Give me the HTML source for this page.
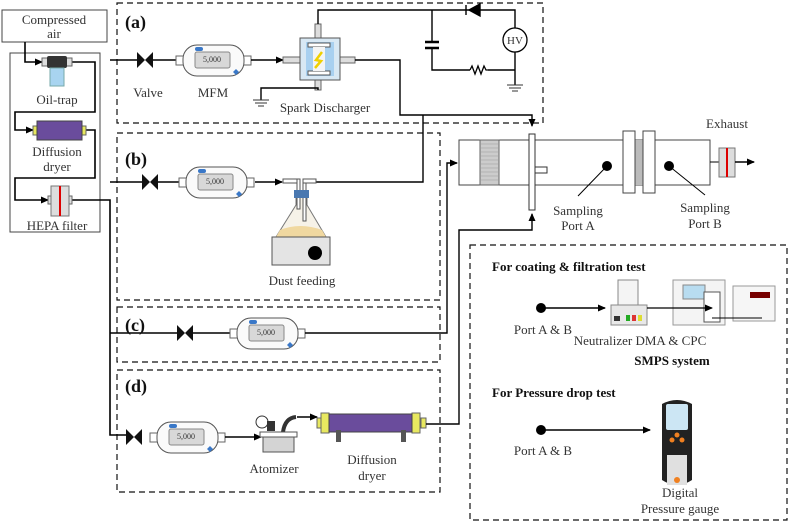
<!DOCTYPE html>
<html><head><style>body{margin:0;background:#fff}svg{display:block}text{font-family:"Liberation Serif",serif;fill:#333}</style></head><body>
<svg width="791" height="526" viewBox="0 0 791 526" xmlns="http://www.w3.org/2000/svg">
<defs>
<marker id="ar" markerWidth="8" markerHeight="8" refX="7" refY="4" orient="auto" markerUnits="userSpaceOnUse"><path d="M0,0.5 L8,4 L0,7.5z" fill="#000"/></marker>
<g id="mfm"><rect x="0" y="12" width="8" height="9" fill="#fff" stroke="#666"/><rect x="67" y="12" width="8" height="9" fill="#fff" stroke="#666"/><rect x="7" y="1" width="61" height="31" rx="14" fill="#fafafa" stroke="#555"/><rect x="19" y="8" width="35" height="16" rx="2" fill="#d8d8d8" stroke="#888"/><rect x="19" y="3" width="8" height="4" rx="2" fill="#3a78c8"/><path d="M60,25 l3,3 l-3,3 l-3,-3z" fill="#3a78c8"/></g>
<g id="valve"><path d="M0,-8 L8,0 L0,8z M16,-8 L8,0 L16,8z" fill="#111"/></g>
</defs>
<g fill="none" stroke="#111" stroke-width="1.2" stroke-dasharray="6,4">
<rect x="117" y="3" width="426" height="120"/>
<rect x="117" y="133" width="323" height="167"/>
<rect x="117" y="307" width="323" height="55"/>
<rect x="117" y="370" width="323" height="122"/>
<rect x="470" y="245" width="317" height="275"/>
</g>
<!-- left panel -->
<rect x="2" y="10" width="105" height="32" fill="#fff" stroke="#444"/>
<text x="54" y="24" font-size="13" text-anchor="middle">Compressed</text>
<text x="54" y="38" font-size="13" text-anchor="middle">air</text>
<rect x="10" y="53" width="90" height="179" fill="none" stroke="#444"/>
<g fill="none" stroke="#000" stroke-width="1.6">
<path d="M25,42 V62 H42" marker-end="url(#ar)"/>
<path d="M72,62 H95 V112 H15 V130 H33" marker-end="url(#ar)"/>
<path d="M86,130 H95 V178 H15 V200 H48" marker-end="url(#ar)"/>
<path d="M70,200 H110 V435 H128"/>
<path d="M110,60 H137"/>
<path d="M110,182 H142"/>
<path d="M110,333 H177"/>
</g>
<rect x="42" y="58" width="6" height="8" fill="#ddd" stroke="#666"/><rect x="66" y="58" width="6" height="8" fill="#ddd" stroke="#666"/>
<rect x="47" y="56" width="20" height="12" rx="2" fill="#333"/>
<rect x="50" y="68" width="14" height="18" fill="#a8d4f0" stroke="#7aa"/>
<text x="57" y="104" font-size="13" text-anchor="middle">Oil-trap</text>
<rect x="33" y="126" width="5" height="9" fill="#e8e860" stroke="#666"/><rect x="81" y="126" width="5" height="9" fill="#e8e860" stroke="#666"/>
<rect x="37" y="121" width="45" height="19" fill="#6a4c9c" stroke="#444"/>
<text x="57" y="156" font-size="13" text-anchor="middle">Diffusion</text>
<text x="57" y="171" font-size="13" text-anchor="middle">dryer</text>
<rect x="48" y="196" width="4" height="8" fill="#ddd" stroke="#666"/><rect x="68" y="196" width="4" height="8" fill="#ddd" stroke="#666"/>
<rect x="51" y="186" width="18" height="30" fill="#ddd" stroke="#777"/><line x1="60" y1="186" x2="60" y2="216" stroke="#d00" stroke-width="2"/>
<text x="57" y="230" font-size="13" text-anchor="middle">HEPA filter</text>
<!-- (a) -->
<text x="125" y="28" font-size="18" font-weight="bold" style="fill:#111">(a)</text>
<use href="#valve" x="137" y="60"/>
<line x1="153" y1="60" x2="176" y2="60" stroke="#000" stroke-width="1.4"/>
<use href="#mfm" x="176" y="44"/><text x="212" y="62" font-size="8" text-anchor="middle">5,000</text>
<path d="M251,60 H283" stroke="#000" stroke-width="1.4" marker-end="url(#ar)"/>
<text x="148" y="97" font-size="13" text-anchor="middle">Valve</text>
<text x="213" y="97" font-size="13" text-anchor="middle">MFM</text>
<rect x="283" y="57" width="18" height="6" fill="#ddd" stroke="#666"/><rect x="340" y="57" width="15" height="6" fill="#ddd" stroke="#666"/>
<rect x="315" y="24" width="6" height="14" fill="#ddd" stroke="#666"/><rect x="315" y="80" width="6" height="10" fill="#ddd" stroke="#666"/>
<rect x="300" y="38" width="40" height="42" fill="#d8e8f4" stroke="#555"/>
<rect x="306" y="42" width="28" height="34" fill="#a8d0f0"/>
<rect x="308" y="43" width="22" height="4" fill="#fff" stroke="#555"/><rect x="308" y="71" width="22" height="4" fill="#fff" stroke="#555"/>
<rect x="313" y="47" width="12" height="24" fill="#f4f4f4"/>
<path d="M322,52 L316,60 L321,61 L315,68" stroke="#f0d000" stroke-width="2.5" fill="none"/>
<text x="325" y="112" font-size="13" text-anchor="middle">Spark Discharger</text>
<g fill="none" stroke="#000" stroke-width="1.4">
<path d="M318,24 V10 H515 V28"/><path d="M515,52 V85"/>
<path d="M432,10 V42 M432,48 V70 H470 M488,70 H515"/>
<path d="M318,90 V88 H261 V100"/>
<path d="M355,60 H400 V115 H532 V126" marker-end="url(#ar)"/>
<path d="M423,115 V182 H316"/>
</g>
<path d="M466,5 V15 M480,4 L469,10 L480,16z" stroke="#000" stroke-width="1.4" fill="#000"/>
<path d="M425,42 H439 M425,48 H439" stroke="#000" stroke-width="2.5"/>
<path d="M470,70 l2,-4 l3,8 l3,-8 l3,8 l3,-8 l2,4 h2" stroke="#000" stroke-width="1.3" fill="none"/>
<circle cx="515" cy="40" r="12" fill="#fff" stroke="#000" stroke-width="1.3"/><text x="515" y="44" font-size="11" text-anchor="middle">HV</text>
<path d="M507,85 H523 M509,88 H521 M512,91 H518 M253,100 H269 M255,103 H267 M258,106 H264" stroke="#333" stroke-width="1"/>
<!-- (b) -->
<text x="125" y="165" font-size="18" font-weight="bold" style="fill:#111">(b)</text>
<use href="#valve" x="142" y="182"/>
<line x1="158" y1="182" x2="179" y2="182" stroke="#000" stroke-width="1.4"/>
<use href="#mfm" x="179" y="166"/><text x="215" y="184" font-size="8" text-anchor="middle">5,000</text>
<path d="M255,182 H282" stroke="#000" stroke-width="1.4" marker-end="url(#ar)"/>
<path d="M276,237 L296,205 V197 H307 V205 L326,237z" fill="#f6f2e8" stroke="#777"/>
<path d="M280,230 Q300,222 322,230 L326,237 H276z" fill="#f0d8a0"/>
<rect x="283" y="179" width="16" height="4" fill="#fff" stroke="#555"/>
<rect x="297" y="179" width="3" height="30" fill="#fff" stroke="#555"/>
<rect x="303" y="179" width="3" height="42" fill="#fff" stroke="#555"/>
<rect x="303" y="179" width="13" height="4" fill="#fff" stroke="#555"/>
<rect x="294" y="190" width="15" height="8" fill="#4a78b0"/>
<rect x="272" y="237" width="58" height="28" fill="#e4e4e4" stroke="#555"/>
<circle cx="315" cy="253" r="7" fill="#000"/>
<text x="302" y="285" font-size="13" text-anchor="middle">Dust feeding</text>
<!-- (c) -->
<text x="125" y="331" font-size="18" font-weight="bold" style="fill:#111">(c)</text>
<use href="#valve" x="177" y="333"/>
<line x1="193" y1="333" x2="230" y2="333" stroke="#000" stroke-width="1.4"/>
<use href="#mfm" x="230" y="317"/><text x="266" y="335" font-size="8" text-anchor="middle">5,000</text>
<path d="M305,333 H447 V163 H457" stroke="#000" stroke-width="1.4" fill="none" marker-end="url(#ar)"/>
<!-- (d) -->
<text x="125" y="392" font-size="18" font-weight="bold" style="fill:#111">(d)</text>
<use href="#valve" x="126" y="437"/>
<use href="#mfm" x="150" y="421"/><text x="186" y="439" font-size="8" text-anchor="middle">5,000</text>
<path d="M225,437 H261" stroke="#000" stroke-width="1.4" marker-end="url(#ar)"/>
<circle cx="262" cy="422" r="6" fill="#fff" stroke="#333"/>
<rect x="267" y="421" width="8" height="10" fill="#333"/>
<path d="M283,432 Q285,418 296,417" stroke="#333" stroke-width="4" fill="none"/>
<path d="M297,417 H317" stroke="#000" stroke-width="1.4" marker-end="url(#ar)"/>
<rect x="260" y="432" width="37" height="5" fill="#fff" stroke="#555"/><rect x="263" y="437" width="31" height="15" fill="#d4d4d4" stroke="#555"/>
<text x="274" y="473" font-size="13" text-anchor="middle">Atomizer</text>
<rect x="317" y="418" width="5" height="10" fill="#e8e860" stroke="#666"/><rect x="421" y="418" width="5" height="10" fill="#e8e860" stroke="#666"/>
<rect x="321" y="413" width="8" height="20" fill="#e8e860" stroke="#666"/><rect x="412" y="413" width="8" height="20" fill="#e8e860" stroke="#666"/>
<rect x="329" y="414" width="83" height="18" fill="#6a4c9c" stroke="#444"/>
<rect x="336" y="430" width="5" height="12" fill="#555"/><rect x="401" y="430" width="5" height="12" fill="#555"/>
<text x="372" y="464" font-size="13" text-anchor="middle">Diffusion</text>
<text x="372" y="480" font-size="13" text-anchor="middle">dryer</text>
<path d="M426,424 H459 V230 H532 V214" stroke="#000" stroke-width="1.4" fill="none" marker-end="url(#ar)"/>
<!-- tank -->
<rect x="459" y="140" width="251" height="45" fill="#fff" stroke="#444"/>
<rect x="480" y="140" width="19" height="45" fill="#ccc" stroke="#666"/>
<g stroke="#999" stroke-width="0.5"><path d="M480,144H499M480,148H499M480,152H499M480,156H499M480,160H499M480,164H499M480,168H499M480,172H499M480,176H499M480,180H499"/></g>
<rect x="529" y="134" width="6" height="76" fill="#fff" stroke="#333"/>
<rect x="535" y="167" width="12" height="6" fill="#fff" stroke="#333"/>
<circle cx="607" cy="166" r="5" fill="#000"/><circle cx="669" cy="166" r="5" fill="#000"/>
<path d="M607,166 L578,196 M669,166 L705,195" stroke="#000"/>
<rect x="635" y="140" width="8" height="45" fill="#bbb"/>
<rect x="623" y="131" width="12" height="62" fill="#fff" stroke="#444"/><rect x="643" y="131" width="12" height="62" fill="#fff" stroke="#444"/>
<text x="578" y="215" font-size="13" text-anchor="middle">Sampling</text><text x="578" y="230" font-size="13" text-anchor="middle">Port A</text>
<text x="705" y="212" font-size="13" text-anchor="middle">Sampling</text><text x="705" y="228" font-size="13" text-anchor="middle">Port B</text>
<text x="727" y="128" font-size="13" text-anchor="middle">Exhaust</text>
<line x1="710" y1="162" x2="719" y2="162" stroke="#000"/>
<rect x="719" y="148" width="16" height="29" fill="#ddd" stroke="#777"/><line x1="727" y1="148" x2="727" y2="177" stroke="#d00" stroke-width="2"/>
<path d="M735,162 H754" stroke="#000" stroke-width="1.4" marker-end="url(#ar)"/>
<!-- right box -->
<text x="492" y="271" font-size="13" font-weight="bold" style="fill:#111">For coating &amp; filtration test</text>
<circle cx="541" cy="308" r="5" fill="#000"/><path d="M541,308 H605" stroke="#000" stroke-width="1.4" marker-end="url(#ar)"/>
<text x="543" y="334" font-size="13" text-anchor="middle">Port A &amp; B</text>
<rect x="618" y="280" width="20" height="25" fill="#f4f4f4" stroke="#888"/>
<rect x="611" y="305" width="36" height="20" fill="#e8e8e8" stroke="#888"/>
<rect x="614" y="316" width="6" height="5" fill="#333"/><rect x="626" y="315" width="4" height="6" fill="#2a2"/><rect x="632" y="315" width="4" height="6" fill="#d33"/><rect x="638" y="315" width="4" height="6" fill="#dd3"/>
<rect x="673" y="280" width="52" height="45" fill="#f4f4f4" stroke="#999"/>
<rect x="683" y="285" width="22" height="14" fill="#b8dcf0" stroke="#888"/>
<rect x="704" y="292" width="16" height="30" fill="#fff" stroke="#555"/>
<path d="M647,308 H712" stroke="#000" stroke-width="1.3" marker-end="url(#ar)"/>
<rect x="733" y="286" width="42" height="35" fill="#f6f6f6" stroke="#999"/>
<rect x="750" y="292" width="20" height="6" fill="#700"/>
<path d="M712,318 H762" stroke="#000"/>
<text x="640" y="345" font-size="13" text-anchor="middle">Neutralizer DMA &amp; CPC</text>
<text x="672" y="365" font-size="13" font-weight="bold" text-anchor="middle" style="fill:#111">SMPS system</text>
<text x="492" y="397" font-size="13" font-weight="bold" style="fill:#111">For Pressure drop test</text>
<circle cx="541" cy="430" r="5" fill="#000"/><path d="M541,430 H650" stroke="#000" stroke-width="1.4" marker-end="url(#ar)"/>
<text x="543" y="455" font-size="13" text-anchor="middle">Port A &amp; B</text>
<path d="M662,404 Q677,396 692,404 V480 Q677,490 662,480z" fill="#222"/>
<rect x="666" y="404" width="22" height="26" rx="2" fill="#cce6f4"/>
<circle cx="677" cy="435" r="2.5" fill="#f08020"/><circle cx="672" cy="440" r="2.5" fill="#f08020"/><circle cx="682" cy="440" r="2.5" fill="#f08020"/>
<rect x="667" y="455" width="20" height="30" fill="#e0e0e0"/><circle cx="677" cy="480" r="3" fill="#f08020"/>
<text x="680" y="497" font-size="13" text-anchor="middle">Digital</text>
<text x="680" y="513" font-size="13" text-anchor="middle">Pressure gauge</text>
</svg>
</body></html>
